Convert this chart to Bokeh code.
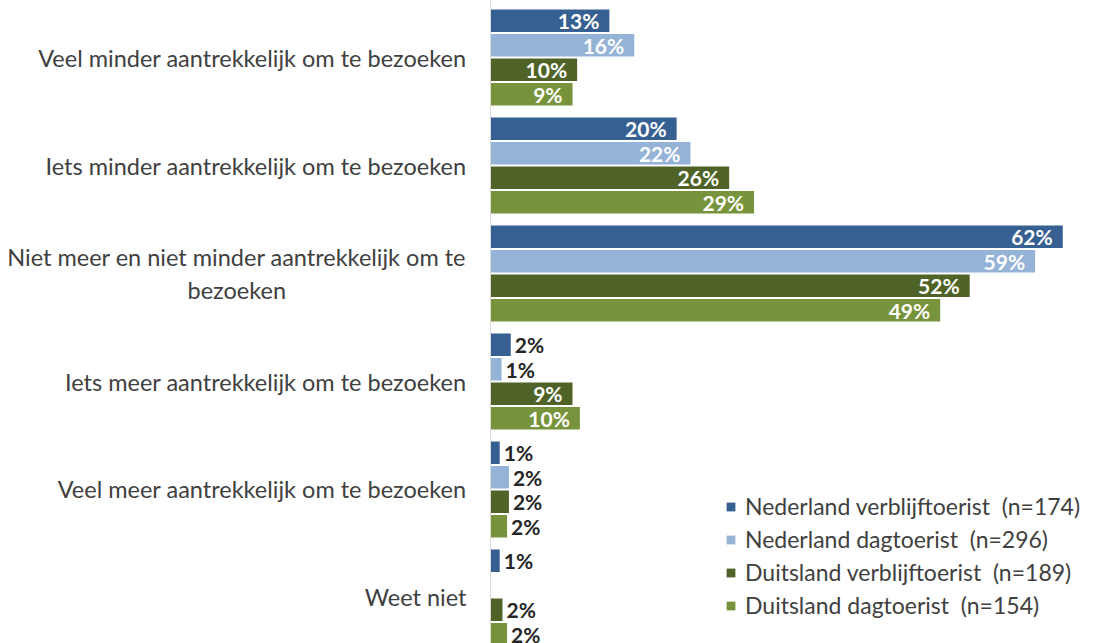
import pandas as pd
from bokeh.plotting import figure
from bokeh.models import Range1d, FixedTicker, ColumnDataSource, Legend, LegendItem
from bokeh.core.properties import value
from bokeh.embed import file_html
from bokeh.resources import INLINE

NBSP = "\u00a0"
categories = [
    "Veel minder aantrekkelijk om te bezoeken",
    "Iets minder aantrekkelijk om te bezoeken",
    "Niet meer en niet minder aantrekkelijk om te\nbezoeken" + NBSP * 30,
    "Iets meer aantrekkelijk om te bezoeken",
    "Veel meer aantrekkelijk om te bezoeken",
    "Weet niet",
]
series_names = [
    "Nederland verblijftoerist  (n=174)",
    "Nederland dagtoerist  (n=296)",
    "Duitsland verblijftoerist  (n=189)",
    "Duitsland dagtoerist  (n=154)",
]
nl_verblijf = [12.9, 20.2, 62.1, 2.2, 1.0, 1.0]
nl_dag = [15.6, 21.7, 59.1, 1.2, 2.0, 0.0]
de_verblijf = [9.4, 25.9, 52.0, 8.9, 2.0, 1.3]
de_dag = [8.9, 28.6, 48.8, 9.7, 1.8, 1.8]
nl_verblijf_lbl = ["13%", "20%", "62%", "2%", "1%", "1%"]
nl_dag_lbl = ["16%", "22%", "59%", "1%", "2%", ""]
de_verblijf_lbl = ["10%", "26%", "52%", "9%", "2%", "2%"]
de_dag_lbl = ["9%", "29%", "49%", "10%", "2%", "2%"]

colors = ["#376092", "#95B3D7", "#4F6228", "#77933C"]
series_vals = [nl_verblijf, nl_dag, de_verblijf, de_dag]
series_lbls = [nl_verblijf_lbl, nl_dag_lbl, de_verblijf_lbl, de_dag_lbl]
offsets = [-0.340, -0.1134, 0.1134, 0.340]
bar_h = 0.208

FONT = "Lato"

p = figure(width=1097, height=643, output_backend="svg", toolbar_location=None,
           x_range=Range1d(0, 65.87), y_range=Range1d(5.426, -0.528),
           min_border_left=490, min_border_right=0, min_border_top=0, min_border_bottom=0)
p.outline_line_color = None
p.xgrid.visible = False
p.ygrid.visible = False
p.xaxis.visible = False

ya = p.yaxis[0]
ya.ticker = FixedTicker(ticks=list(range(len(categories))))
ya.major_label_overrides = {i: c for i, c in enumerate(categories)}
ya.axis_line_color = "#D9D9D9"
ya.major_tick_line_color = None
ya.minor_tick_line_color = None
ya.major_label_standoff = 18
ya.major_label_text_font = FONT
ya.major_label_text_font_size = "23.5px"
ya.major_label_text_color = "#404040"

items = []
for k in range(4):
    ys = [i + offsets[k] for i in range(len(categories))]
    vals = series_vals[k]
    src = ColumnDataSource(dict(y=ys, right=vals))
    r = p.hbar(y="y", left=0, right="right", height=bar_h, source=src,
               fill_color=colors[k], line_color=None)
    items.append(LegendItem(label=series_names[k], renderers=[r]))
    lbl = series_lbls[k]
    inside = ColumnDataSource(dict(
        x=[v for v, t in zip(vals, lbl) if v >= 5 and t],
        y=[y for y, v, t in zip(ys, vals, lbl) if v >= 5 and t],
        t=[t for v, t in zip(vals, lbl) if v >= 5 and t]))
    outside = ColumnDataSource(dict(
        x=[v for v, t in zip(vals, lbl) if v < 5 and t],
        y=[y for y, v, t in zip(ys, vals, lbl) if v < 5 and t],
        t=[t for v, t in zip(vals, lbl) if v < 5 and t]))
    p.text(x="x", y="y", text="t", source=inside, x_offset=-10,
           text_align="right", text_baseline="middle", text_color="white",
           text_font=value(FONT), text_font_style="bold", text_font_size="21px")
    p.text(x="x", y="y", text="t", source=outside, x_offset=4,
           text_align="left", text_baseline="middle", text_color="#262626",
           text_font=value(FONT), text_font_style="bold", text_font_size="21px")

legend = Legend(items=items, location=(235, 24), orientation="vertical",
                glyph_width=11, glyph_height=11, label_standoff=9,
                label_height=27, spacing=5, padding=0, margin=0,
                border_line_color=None, background_fill_alpha=0,
                label_text_font=FONT, label_text_font_size="23px",
                label_text_color="#404040")
p.add_layout(legend)

open("out.html", "w").write(file_html(p, INLINE))
